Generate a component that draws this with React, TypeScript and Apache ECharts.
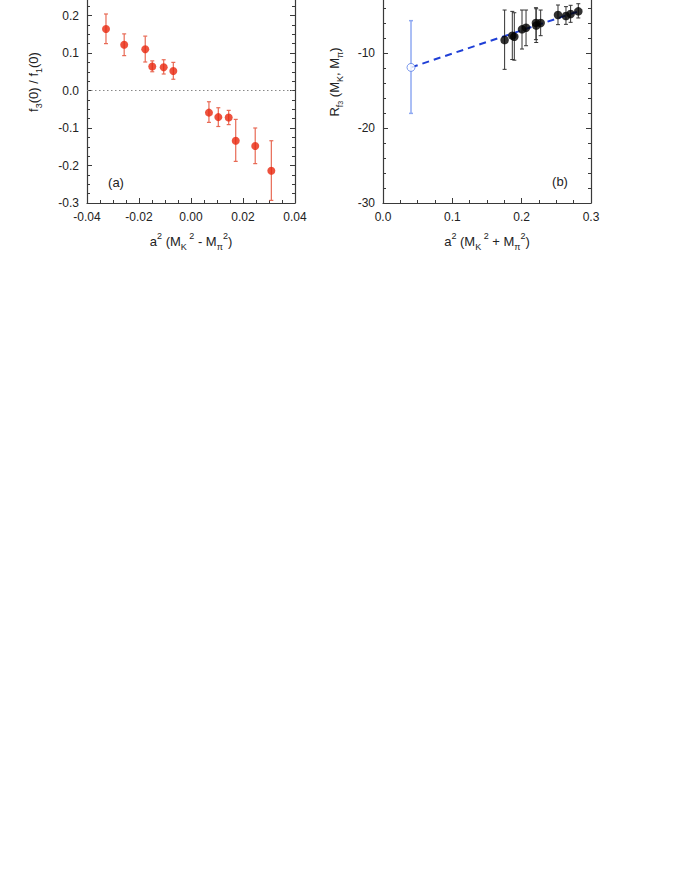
import React, { useEffect, useRef } from "react";
import * as echarts from "echarts";

// Panel (a): f3(0)/f1(0) vs a^2 (MK^2 - Mpi^2)
const aX = [-0.0327, -0.0257, -0.0176, -0.0149, -0.0105, -0.0068, 0.0069, 0.0105, 0.0145, 0.0172, 0.0247, 0.0309];
const aY = [0.164, 0.122, 0.110, 0.064, 0.062, 0.052, -0.059, -0.071, -0.072, -0.134, -0.148, -0.214];
const aHi = [0.204, 0.151, 0.145, 0.079, 0.082, 0.075, -0.030, -0.046, -0.053, -0.077, -0.100, -0.134];
const aLo = [0.125, 0.093, 0.076, 0.050, 0.044, 0.030, -0.085, -0.096, -0.091, -0.189, -0.195, -0.293];
const zeroX = [-0.04, 0.04];
const zeroY = [0, 0];

// Panel (b): R_f3(MK, Mpi) vs a^2 (MK^2 + Mpi^2)
const bX = [0.1754, 0.1865, 0.1894, 0.2005, 0.2063, 0.2206, 0.221, 0.2274, 0.2524, 0.2639, 0.2706, 0.2817];
const bY = [-8.27, -7.69, -7.83, -6.85, -6.63, -5.99, -6.35, -6.0, -4.93, -5.07, -4.8, -4.45];
const bHi = [-4.27, -4.45, -4.63, -4.27, -4.27, -3.96, -4.1, -4.27, -3.6, -3.82, -3.64, -3.43];
const bLo = [-12.18, -10.87, -10.96, -9.47, -9.03, -8.22, -8.6, -7.69, -6.22, -6.18, -5.91, -5.33];
const cX = [0.0404];
const cY = [-11.92];
const cHi = [-5.69];
const cLo = [-18.05];
const fitX = [0.0404, 0.2817];
const fitY = [-11.92, -4.45];

const FONT = "Liberation Sans, Arial, sans-serif";
const AXIS_COLOR = "#3a3a3a";
const LABEL_COLOR = "#222";
const OFF = 22; // chart canvas is shifted up by this much (top frame lies above the page)

function zip(xs: number[], ys: number[]) {
  return xs.map((x, i) => [x, ys[i]]);
}

function errSeries(xi: number, yi: number, xs: number[], lo: number[], hi: number[], color: string, width: number, cap: number) {
  return {
    type: "custom",
    xAxisIndex: xi,
    yAxisIndex: yi,
    data: xs.map((x, i) => [x, lo[i], hi[i]]),
    encode: { x: 0, y: [1, 2] },
    z: 2,
    renderItem: (params: any, api: any) => {
      const x = api.value(0);
      const p1 = api.coord([x, api.value(2)]);
      const p2 = api.coord([x, api.value(1)]);
      const st = { stroke: color, lineWidth: width };
      return {
        type: "group",
        children: [
          { type: "line", shape: { x1: p1[0], y1: p1[1], x2: p2[0], y2: p2[1] }, style: st },
          { type: "line", shape: { x1: p1[0] - cap, y1: p1[1], x2: p1[0] + cap, y2: p1[1] }, style: st },
          { type: "line", shape: { x1: p2[0] - cap, y1: p2[1], x2: p2[0] + cap, y2: p2[1] }, style: st },
        ],
      };
    },
  };
}

function axisCommon(showLabels: boolean, fmt: (v: number) => string, minorSplit: number, hideMax = false) {
  return {
    axisLine: { show: true, onZero: false, lineStyle: { color: AXIS_COLOR, width: 1.2 } },
    axisTick: { show: true, inside: true, length: 5, lineStyle: { color: AXIS_COLOR, width: 1 } },
    minorTick: { show: true, splitNumber: minorSplit, length: 3, lineStyle: { color: AXIS_COLOR, width: 1 } },
    splitLine: { show: false },
    axisLabel: {
      show: showLabels,
      formatter: fmt,
      color: LABEL_COLOR,
      fontSize: 12,
      fontFamily: FONT,
      margin: 8,
      showMaxLabel: hideMax ? false : undefined,
    },
  };
}

const fmt = (d: number) => (v: number) => (Math.abs(v) < 1e-9 ? (0).toFixed(d) : v.toFixed(d));

const rich = {
  n: { fontSize: 13, fontFamily: FONT, fill: LABEL_COLOR, color: LABEL_COLOR, lineHeight: 20, verticalAlign: "middle" },
  s: { fontSize: 9, fontFamily: FONT, fill: LABEL_COLOR, color: LABEL_COLOR, lineHeight: 8, verticalAlign: "bottom" },
  ss: { fontSize: 7, fontFamily: FONT, fill: LABEL_COLOR, color: LABEL_COLOR, lineHeight: 6, verticalAlign: "bottom" },
  p: { fontSize: 9, fontFamily: FONT, fill: LABEL_COLOR, color: LABEL_COLOR, lineHeight: 9, verticalAlign: "top" },
};

export default function App() {
  const ref = useRef<HTMLDivElement>(null);
  useEffect(() => {
    if (!ref.current) return;
    const chart = echarts.init(ref.current, undefined, { renderer: "svg" });
    const gridA = { left: 87, top: 0, width: 208, height: 225, outerBoundsMode: "none", containLabel: false };
    const gridB = { left: 383, top: 0, width: 208, height: 225, outerBoundsMode: "none", containLabel: false };
    const option: any = {
      animation: false,
      backgroundColor: "#fff",
      grid: [gridA, gridB],
      xAxis: [
        { type: "value", gridIndex: 0, position: "bottom", min: -0.04, max: 0.04, interval: 0.02, ...axisCommon(true, fmt(2), 4) },
        { type: "value", gridIndex: 0, position: "top", min: -0.04, max: 0.04, interval: 0.02, ...axisCommon(false, fmt(2), 4) },
        { type: "value", gridIndex: 1, position: "bottom", min: 0, max: 0.3, interval: 0.1, ...axisCommon(true, fmt(1), 4) },
        { type: "value", gridIndex: 1, position: "top", min: 0, max: 0.3, interval: 0.1, ...axisCommon(false, fmt(1), 4) },
      ],
      yAxis: [
        { type: "value", gridIndex: 0, position: "left", min: -0.3, max: 0.3, interval: 0.1, ...axisCommon(true, fmt(1), 4, true) },
        { type: "value", gridIndex: 0, position: "right", min: -0.3, max: 0.3, interval: 0.1, ...axisCommon(false, fmt(1), 4) },
        { type: "value", gridIndex: 1, position: "left", min: -30, max: 0, interval: 10, ...axisCommon(true, fmt(0), 5, true) },
        { type: "value", gridIndex: 1, position: "right", min: -30, max: 0, interval: 10, ...axisCommon(false, fmt(0), 5) },
      ],
      series: [
        {
          type: "line",
          xAxisIndex: 0,
          yAxisIndex: 0,
          data: zip(zeroX, zeroY),
          symbol: "none",
          lineStyle: { color: "#888", width: 1, type: [1.5, 2.5] },
          z: 1,
        },
        errSeries(0, 0, aX, aLo, aHi, "#e86a55", 1.2, 2),
        {
          type: "scatter",
          xAxisIndex: 0,
          yAxisIndex: 0,
          data: zip(aX, aY),
          symbol: "circle",
          symbolSize: 8,
          itemStyle: { color: "#e8270e" },
          z: 3,
        },
        {
          type: "line",
          xAxisIndex: 2,
          yAxisIndex: 2,
          data: zip(fitX, fitY),
          symbol: "none",
          lineStyle: { color: "#1f3fd6", width: 2, type: [7, 5] },
          z: 1,
        },
        errSeries(2, 2, cX, cLo, cHi, "#8fa9f2", 1.5, 2),
        errSeries(2, 2, bX, bLo, bHi, "#333", 1, 2),
        {
          type: "scatter",
          xAxisIndex: 2,
          yAxisIndex: 2,
          data: zip(cX, cY),
          symbol: "circle",
          symbolSize: 8,
          itemStyle: { color: "#fff", borderColor: "#5b7fe8", borderWidth: 1 },
          z: 3,
        },
        {
          type: "scatter",
          xAxisIndex: 2,
          yAxisIndex: 2,
          data: zip(bX, bY),
          symbol: "circle",
          symbolSize: 8.5,
          itemStyle: { color: "#000" },
          z: 3,
        },
      ],
      graphic: [
        {
          type: "text",
          x: 33,
          y: 82 + OFF,
          rotation: Math.PI / 2,
          style: { text: "{n|f}{s|3}{n|(0) / f}{s|1}{n|(0)}", rich, align: "center", verticalAlign: "middle" },
        },
        {
          type: "text",
          x: 334,
          y: 82 + OFF,
          rotation: Math.PI / 2,
          style: { text: "{n|R}{s|f}{ss|3}{n| (M}{s|K}{n|, M}{s|π}{n|)}", rich, align: "center", verticalAlign: "middle" },
        },
        {
          type: "text",
          x: 191,
          y: 241 + OFF,
          style: { text: "{n|a}{p|2}{n| (M}{s|K}{p| 2}{n| - M}{s|π}{p|2}{n|)}", rich, align: "center", verticalAlign: "middle" },
        },
        {
          type: "text",
          x: 487,
          y: 241 + OFF,
          style: { text: "{n|a}{p|2}{n| (M}{s|K}{p| 2}{n| + M}{s|π}{p|2}{n|)}", rich, align: "center", verticalAlign: "middle" },
        },
        {
          type: "text",
          x: 116,
          y: 182 + OFF,
          style: { text: "(a)", font: `13px ${FONT}`, fill: LABEL_COLOR, align: "center", verticalAlign: "middle" },
        },
        {
          type: "text",
          x: 560,
          y: 181 + OFF,
          style: { text: "(b)", font: `13px ${FONT}`, fill: LABEL_COLOR, align: "center", verticalAlign: "middle" },
        },
      ],
    };
    chart.setOption(option);
    return () => chart.dispose();
  }, []);
  return <div ref={ref} style={{ position: "fixed", left: 0, top: -OFF, width: 680, height: 880 + OFF }} />;
}
